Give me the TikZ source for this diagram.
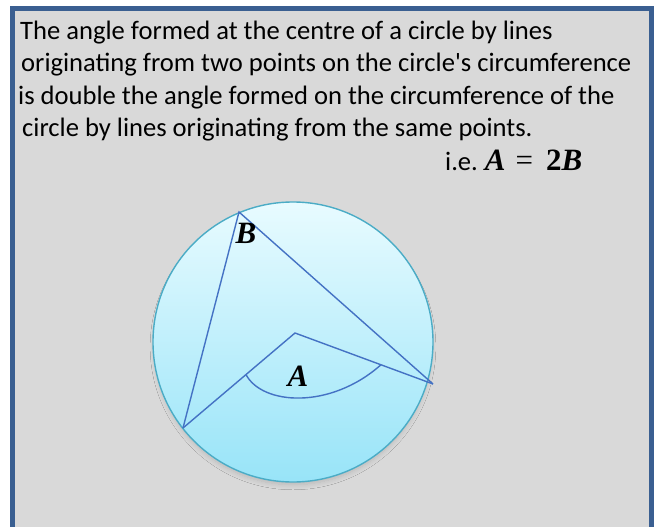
\documentclass[tikz,border=0pt]{standalone}
\usepackage{fontspec}
\setmainfont{Carlito}
\newfontfamily\plainfont{Carlito}
\newfontfamily\mathlike{Liberation Serif}
\usetikzlibrary{calc,shadows.blur}
\definecolor{framec}{RGB}{58,95,145}
\definecolor{panel}{RGB}{217,217,217}
\definecolor{rimc}{RGB}{75,172,198}
\definecolor{toplight}{RGB}{232,251,255}
\definecolor{botlight}{RGB}{152,228,248}
\definecolor{linec}{RGB}{68,114,196}
\tikzset{
  txt/.style={anchor=base west, inner sep=0pt, font=\fontsize{26.6}{30}\selectfont},
  geo/.style={draw=linec, line width=1.4pt},
  lbl/.style={inner sep=0pt, font=\mathlike\fontsize{31}{34}\selectfont\bfseries\itshape}
}
\newcommand{\mvar}[1]{{\mathlike\fontsize{31}{34}\selectfont\bfseries\itshape #1}}
\newcommand{\mnum}[1]{{\mathlike\fontsize{31}{34}\selectfont\bfseries #1}}
\begin{document}
\begin{tikzpicture}[x=1pt,y=-1pt]
\useasboundingbox (0,0) rectangle (659,527);
\fill[white] (0,0) rectangle (659,527);
\draw[draw=framec, fill=panel, line width=5pt] (12.5,8.5) rectangle (651,529);
% text
\node[txt] (l1) at (20,40) {The angle formed at the centre of a circle by lines};
\node[txt] (l2) at (21,72) {originating from two points on the circle{\plainfont '}s circumference};
\node[txt] (l3) at (18,104) {is double the angle formed on the circumference of the};
\node[txt] (l4) at (22,136) {circle by lines originating from the same points.};
\node[txt] (ie) at (445,170) {i.e.\hspace{7pt}\mvar{A}\hspace{10pt}{\mathlike\fontsize{31}{34}\selectfont =}\hspace{13pt}\mnum{2}\mvar{B}};
% circle
\coordinate (C) at (293,342);
\shade[top color=toplight, bottom color=botlight, blur shadow={shadow xshift=0pt, shadow yshift=-5pt, shadow scale=0.985, shadow blur radius=5pt, shadow blur steps=10, shadow opacity=15}]
  (C) circle[radius=140];
\draw[draw=rimc, line width=1.4pt] (C) circle[radius=140];
% points
\coordinate (O) at (295,333);
\coordinate (B) at (239,212);
\coordinate (P) at (433,384);
\coordinate (Q) at (183,428);
\draw[geo] (Q) -- (B) -- (P);
\draw[geo] (Q) -- (O) -- (P);
\coordinate (a1) at ($(O)!0.4375!(Q)$);
\coordinate (a2) at ($(O)!0.623!(P)$);
\draw[geo] (a1) .. controls (262,405) and (330,410) .. (a2);
\node[lbl] (lb) at (246,233) {B};
\node[lbl] (la) at (298,376) {A};
\end{tikzpicture}
\end{document}
